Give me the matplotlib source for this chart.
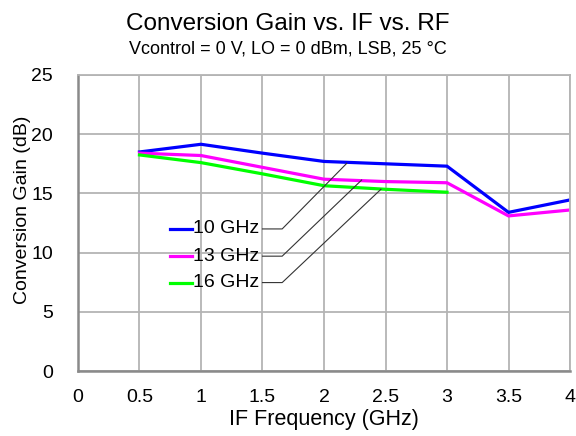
import matplotlib
matplotlib.use("Agg")
import matplotlib.pyplot as plt

# data
if_freq = [0.5, 1.0, 1.5, 2.0, 2.5, 3.0, 3.5, 4.0]
gain_10 = [18.5, 19.15, 18.4, 17.7, 17.5, 17.3, 13.4, 14.45]
gain_13 = [18.4, 18.2, 17.2, 16.2, 16.0, 15.9, 13.1, 13.6]
if_freq_16 = [0.5, 1.0, 1.5, 2.0, 2.5, 3.0]
gain_16 = [18.25, 17.6, 16.65, 15.65, 15.35, 15.1]

labels = ["10 GHz", "13 GHz", "16 GHz"]
colors = ["#0000ff", "#ff00ff", "#00ff00"]

plt.rcParams["font.family"] = ["Liberation Sans", "DejaVu Sans"]

fig = plt.figure(figsize=(5.76, 4.36), dpi=100)
ax = fig.add_axes([0.1354, 0.149, 0.8542, 0.679])

ax.plot(if_freq, gain_10, color=colors[0], lw=2.3, solid_joinstyle="miter")
ax.plot(if_freq, gain_13, color=colors[1], lw=2.3, solid_joinstyle="miter")
ax.plot(if_freq_16, gain_16, color=colors[2], lw=2.3, solid_joinstyle="miter")

# labels with leader lines
label_y = [12.0, 9.7, 7.47]
targets = [(2.185, 17.54), (2.306, 16.13), (2.463, 15.35)]
for lab, c, ly, (tx, ty) in zip(labels, colors, label_y, targets):
    ax.plot([0.75, 0.93], [ly, ly], color=c, lw=2.3)
    ax.text(0.935, ly, lab, fontsize=14, va="center", ha="left")
    ax.plot([1.50, 1.66, tx], [ly, ly, ty], color="#333333", lw=0.8)

ax.set_xlim(0, 4)
ax.set_ylim(0, 25)
ax.set_xticks([0, 0.5, 1, 1.5, 2, 2.5, 3, 3.5, 4])
ax.set_xticklabels(["0", "0.5", "1", "1.5", "2", "2.5", "3", "3.5", "4"])
ax.set_yticks([0, 5, 10, 15, 20, 25])
ax.tick_params(length=0, labelsize=14)
ax.tick_params(axis="y", pad=18)
ax.tick_params(axis="x", pad=13)
ax.grid(True, color="#b4b4b4", lw=1.3)
for s in ax.spines.values():
    s.set_color("#b4b4b4")
    s.set_linewidth(1.3)
for side in ["left", "bottom"]:
    ax.spines[side].set_color("#8a8a8a")
    ax.spines[side].set_linewidth(1.8)

ax.set_xlabel("IF Frequency (GHz)", fontsize=15.5, labelpad=2)
ax.set_ylabel("Conversion Gain (dB)", fontsize=14)
ax.yaxis.set_label_coords(-0.095, 0.544)

fig.text(0.5, 0.945, "Conversion Gain vs. IF vs. RF", fontsize=17.5, ha="center", va="center")
fig.text(0.5, 0.888, "Vcontrol = 0 V, LO = 0 dBm, LSB, 25 \u00b0C", fontsize=13, ha="center", va="center")

fig.savefig("out.png", dpi=100)
